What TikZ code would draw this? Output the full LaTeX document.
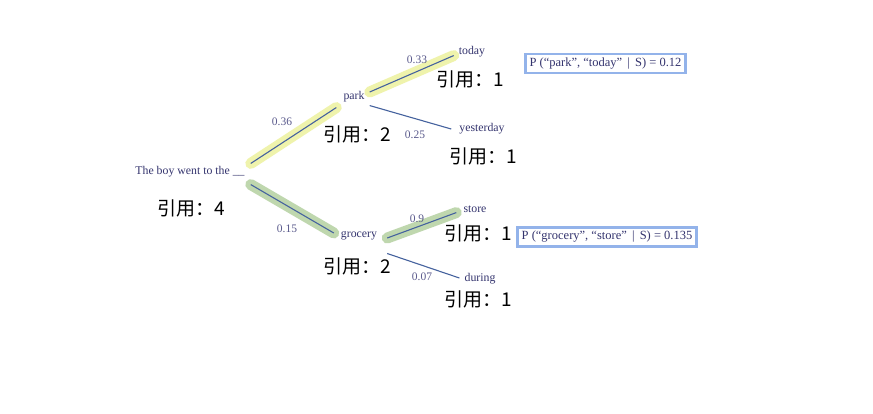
\documentclass[tikz,border=0pt]{standalone}
\usepackage{fontspec}
\setmainfont{Liberation Serif}
\newfontfamily\cjk{Noto Sans CJK SC}
\usepackage{xcolor}
\usetikzlibrary{calc}
\usetikzlibrary{positioning}

\definecolor{wordcol}{HTML}{34346E}
\definecolor{probcol}{HTML}{5A5A8C}
\definecolor{edgecol}{HTML}{45629E}
\definecolor{hlyellow}{HTML}{EEF2A4}
\definecolor{hlgreen}{HTML}{B9D3A6}
\definecolor{boxcol}{HTML}{93B3EA}

\tikzset{
  word/.style={text=wordcol,font=\fontsize{11.8}{14}\selectfont,inner sep=2pt},
  prob/.style={text=probcol,font=\fontsize{11.5}{14}\selectfont,inner sep=1pt},
  count/.style={text=black,font=\cjk\fontsize{19}{22}\selectfont,inner sep=0pt},
  edge/.style={edgecol,line width=1.1pt},
  hlpath/.style={line width=11pt,line cap=round,opacity=0.9},
  probbox/.style={draw=boxcol,line width=2.6pt,fill=white,text=wordcol,
    font=\fontsize{12.5}{15}\selectfont,inner xsep=4pt,inner ysep=4pt}
}

\begin{document}
\begin{tikzpicture}[x=1pt,y=-1pt]
  \useasboundingbox[fill=white] (0,0) rectangle (873,413);

  % words of the tree
  \node[word] (root)      at (190,172) {The boy went to the \_\_};
  \node[word] (park)      at (354,97)  {park};
  \node[word] (grocery)   at (359,236) {grocery};
  \node[word] (today)     at (472,52)  {today};
  \node[word] (yesterday) at (482,129) {yesterday};
  \node[word] (store)     at (475,209) {store};
  \node[word] (during)    at (480,279) {during};

  % counts
  \node[count] (c-root)      at (191,208) {引用：4};
  \node[count] (c-park)      at (357,134) {引用：2};
  \node[count] (c-grocery)   at (357,266) {引用：2};
  \node[count] (c-today)     at (470,79)  {引用：1};
  \node[count] (c-yesterday) at (483,156) {引用：1};
  \node[count] (c-store)     at (478,233) {引用：1};
  \node[count] (c-during)    at (478,299) {引用：1};

  % highlighted paths
  \draw[hlpath,hlyellow] ($(root.north east)+(4,-1)$) -- ($(park.south west)+(-5,3)$);
  \draw[hlpath,hlyellow] ($(park.east)+(3,-5)$) -- ($(today.south west)+(-3,-4)$);
  \draw[hlpath,hlgreen] ($(root.south east)+(4,5)$) -- ($(grocery.west)+(-5,-3)$);
  \draw[hlpath,hlgreen] ($(grocery.east)+(8,2)$) -- ($(store.south west)+(-5,-2)$);

  % edges
  \draw[edge] ($(root.north east)+(4,-1)$) -- ($(park.south west)+(-5,3)$);
  \draw[edge] ($(park.east)+(3,-5)$) -- ($(today.south west)+(-3,-4)$);
  \draw[edge] ($(park.south east)+(3,1)$) -- ($(yesterday.west)+(-6,0)$);
  \draw[edge] ($(root.south east)+(4,5)$) -- ($(grocery.west)+(-5,-3)$);
  \draw[edge] ($(grocery.east)+(8,2)$) -- ($(store.south west)+(-5,-2)$);
  \draw[edge] ($(grocery.south east)+(8,11)$) -- ($(during.west)+(-3,-1)$);

  % probabilities
  \node[prob] (p-park)      at (282,122) {0.36};
  \node[prob] (p-today)     at (417,60)  {0.33};
  \node[prob] (p-yesterday) at (415,135) {0.25};
  \node[prob] (p-grocery)   at (287,229) {0.15};
  \node[prob] (p-store)     at (417,219) {0.9};
  \node[prob] (p-during)    at (422,277) {0.07};

  % joint probabilities
  \node[probbox] (box-park)    at (605.5,63.5)  {P (“park”, “today” \,|\, S) = 0.12};
  \node[probbox] (box-grocery) at (607,237)     {P (“grocery”, “store” \,|\, S) = 0.135};
\end{tikzpicture}
\end{document}
